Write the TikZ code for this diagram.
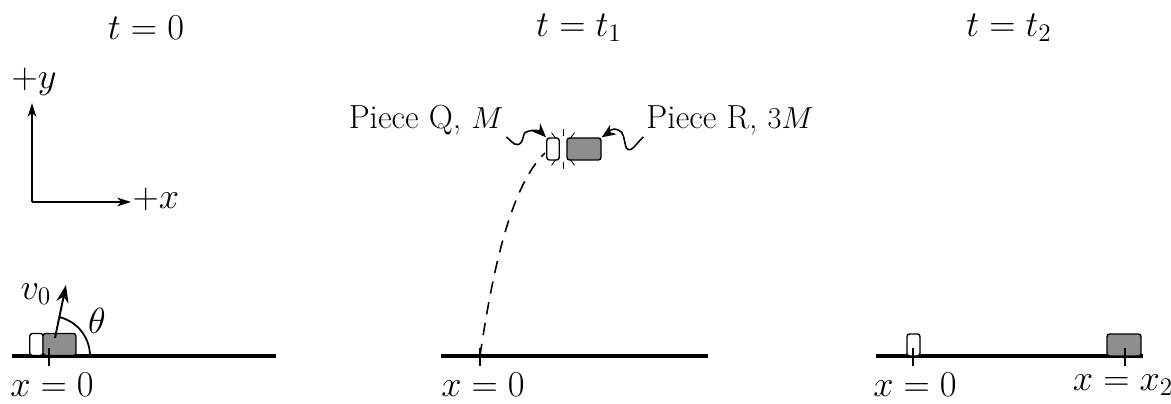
\documentclass[tikz,border=0pt]{standalone}
\usepackage{tikz}
\usetikzlibrary{positioning,calc,arrows.meta}
\definecolor{PieceGray}{HTML}{8E8E8E}

\begin{document}
\begin{tikzpicture}[x=0.02cm, y=0.02cm, font=\fontsize{20.5}{24}\selectfont,
  ground/.style={line width=2.2pt},
  tickmark/.style={line width=1pt},
  piece/.style={draw, line width=0.8pt, rounded corners=1.5pt, inner sep=0pt, minimum height=0.44cm},
  smallpiece/.style={piece, fill=white, minimum width=0.25cm},
  bigpiece/.style={piece, fill=PieceGray, minimum width=0.68cm},
  piecelabel/.style={font=\fontsize{19}{23}\selectfont},
  squig/.style={line width=0.9pt, -{Stealth[length=8pt, width=6.5pt]}},
  axis/.style={line width=1pt, -{Stealth[length=8pt, width=5pt]}},
  spark/.style={line width=0.5pt}]
  \useasboundingbox (0,0) rectangle (1171,404);

  %% Titles
  \node (title0) at (146,376) {$t = 0$};
  \node (title1) at (579,376) {$t = t_1$};
  \node (title2) at (1009,376) {$t = t_2$};

  %% Axes
  \coordinate (origin) at (32,202);
  \node (ylbl) at (34,322) {$+y$};
  \node (xlbl) at (156,205) {$+x$};
  \draw[axis] (origin) -- (32,301);
  \draw[axis] (origin) -- (131,202);

  %% Panel 1: launch
  \draw[ground] (12,48) -- (276,48);
  \node[smallpiece, minimum width=0.27cm] (q0) at (36.5,59.5) {};
  \node[bigpiece, minimum width=0.66cm] (r0) at (59.5,59.5) {};
  \draw[tickmark] (49,38) -- (49,56);
  \coordinate (vbase) at (55,66);
  \coordinate (vtip) at (66,119);
  \draw[line width=1.1pt, -{Stealth[length=10pt, width=7pt]}] (vbase) -- (vtip);
  \draw[line width=1pt] (90,48) arc[start angle=0, end angle=76, radius=40];
  \node (v0) at (36,110) {$v_0$};
  \node (theta) at (97,83) {$\theta$};
  \node (x0a) at (52,19) {$x = 0$};

  %% Panel 2: explosion at the top
  \draw[ground] (441,48) -- (708,48);
  \draw[tickmark] (480,38) -- (480,56);
  \node (x0b) at (483,19) {$x = 0$};
  \node[smallpiece] (q1) at (553,255) {};
  \node[bigpiece] (r1) at (584,255) {};
  \draw[line width=0.9pt, dash pattern=on 7pt off 5pt]
    (480,48) .. controls (497,165) and (518,225) .. (545,251);
  \coordinate (blast) at (563,255);
  \foreach \a in {55,90,125,235,270,305} {%
    \draw[spark] ($(blast)+(\a:13)$) -- ($(blast)+(\a:20)$);
  }
  \node[piecelabel] (lblQ) at (426,284) {Piece Q, $M$};
  \node[piecelabel] (lblR) at (730,284) {Piece R, $3M$};
  \draw[squig] ([shift={(-3,-17)}]lblQ.east) .. controls +(7,-6) and +(-5,-6) .. ++(15,-5)
    .. controls +(4,8) and +(-8,-2) .. ++(8,11)
    .. controls +(8,2) and +(-5,5) .. (q1.north west);
  \draw[squig] ([shift={(3,-17)}]lblR.west) .. controls +(-7,-6) and +(5,-6) .. ++(-17,-11)
    .. controls +(-3,10) and +(6,-2) .. ++(-8,18)
    .. controls +(-8,3) and +(6,4) .. (r1.north east);

  %% Panel 3: landed pieces
  \draw[ground] (876,48) -- (1143,48);
  \node[smallpiece, minimum width=0.26cm] (q2) at (913.5,59) {};
  \node[bigpiece] (r2) at (1124,59) {};
  \draw[tickmark] (913,38) -- (913,56);
  \draw[tickmark] (1125,38) -- (1125,56);
  \node (x0c) at (915,19) {$x = 0$};
  \node (x2c) at (1123,19) {$x = x_2$};
\end{tikzpicture}
\end{document}
